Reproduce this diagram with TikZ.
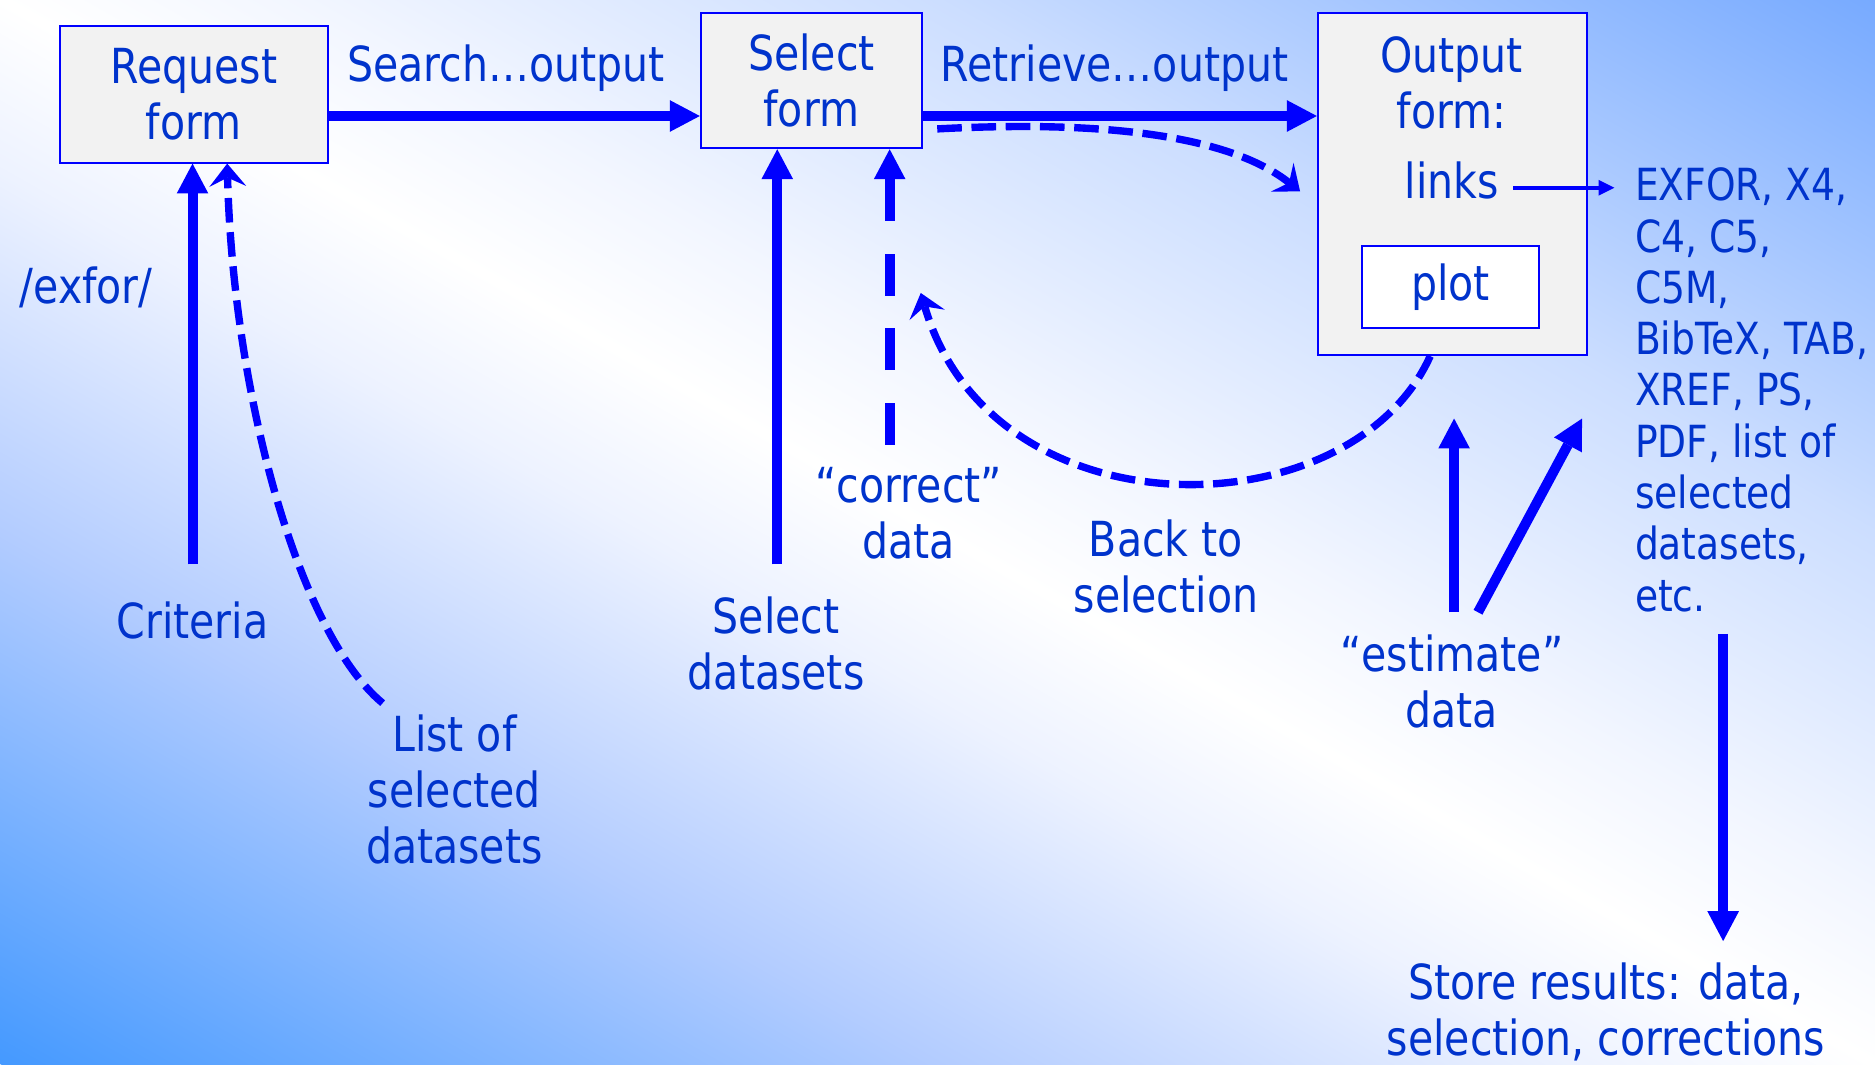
\documentclass[tikz,border=0pt]{standalone}
\usepackage{fontspec}
\setmainfont{DejaVu Sans}[FakeStretch=0.85]
\usetikzlibrary{arrows.meta,calc}

\definecolor{txtblue}{HTML}{0033CC}
\definecolor{arrblue}{HTML}{0000FF}
\definecolor{boxfill}{HTML}{F2F2F2}

% blue -> white -> blue background, stops between 25bp and 75bp span the path
\pgfdeclarehorizontalshading{bgshade}{100bp}{%
  rgb(0bp)=(0.267,0.600,1);
  rgb(25bp)=(0.267,0.600,1);
  rgb(37.5bp)=(0.70,0.80,1);
  rgb(46bp)=(0.93,0.95,1);
  rgb(50bp)=(1,1,1);
  rgb(54bp)=(0.95,0.965,1);
  rgb(62.5bp)=(0.80,0.87,1);
  rgb(75bp)=(0.467,0.667,1);
  rgb(100bp)=(0.467,0.667,1)}

\tikzset{
  lbl/.style={text=txtblue, font=\fontsize{27.5}{32}\selectfont, align=center, inner sep=0pt},
  lblsmall/.style={text=txtblue, font=\fontsize{25.2}{29.2}\selectfont, align=left, inner sep=0pt},
  formbox/.style={draw=arrblue, line width=1.1pt, fill=boxfill, inner sep=0pt,
    text=txtblue, font=\fontsize{27.5}{32}\selectfont, align=center},
  bigarrow/.style={draw=arrblue, line width=5.7pt,
    -{Triangle[width=18pt,length=17pt,line width=0pt]}},
  dasharrow/.style={draw=arrblue, line width=4.2pt, dash pattern=on 14pt off 5.5pt,
    -{Stealth[width=21pt,length=13pt,inset=5pt,line width=0pt]}},
  thinarrow/.style={draw=arrblue, line width=2pt,
    -{Triangle[width=9pt,length=9pt,line width=0pt]}},
}

\begin{document}
\begin{tikzpicture}[x=0.02392cm, y=-0.02392cm]
\useasboundingbox (0,0) rectangle (1568,890);

% background
\begin{scope}
  \clip (0,0) rectangle (1568,890);
  \begin{scope}[transform canvas={shift={(784,445)}, rotate=60.4}]
    \shade[shading=bgshade] (-774,-1100) rectangle (774,1100);
  \end{scope}
\end{scope}

% forms
\node[formbox, minimum width=5.358cm, minimum height=2.727cm] (req) at (162,79) {Request\\form};
\node[formbox, minimum width=4.425cm, minimum height=2.703cm] (sel) at (678.5,67.5) {Select\\form};
\node[formbox, minimum width=5.382cm, minimum height=6.841cm] (out) at (1214.5,154) {};
\node[lbl] (outtitle) at (1214,69) {Output\\form:};
\node[lbl] (links) at (1214,151) {links};
\node[formbox, fill=white, minimum width=3.540cm, minimum height=1.627cm] (plot) at (1213,240) {plot};

% labels
\node[lbl] (search) at (423,57) {Search…output};
\node[lbl] (retrieve) at (932,57) {Retrieve…output};
\node[lbl] (exfor) at (72,240) {/exfor/};
\node[lbl] (crit) at (161,519) {Criteria};
\node[lbl] (list) at (380,660) {List of\\selected\\datasets};
\node[lbl] (seldata) at (649,538) {Select\\datasets};
\node[lbl] (correct) at (760,429) {“correct”\\data};
\node[lbl] (back) at (975,474) {Back to\\selection};
\node[lbl] (estimate) at (1214,570) {“estimate”\\data};
\node[lblsmall, anchor=west] (formats) at (1367,326)
  {EXFOR, X4,\\C4, C5,\\C5M,\\BibTeX, TAB,\\XREF, PS,\\PDF, list of\\selected\\datasets,\\etc.};
\node[lbl] (store) at (1343,846) {Store results: data,\\selection, corrections};

% free ends of connectors
\coordinate (yA) at (0,97);
\coordinate (critTail) at (161,472);
\coordinate (selTail) at (650,472);
\coordinate (corTail) at (744,372);
\coordinate (listTail) at (320,588);
\coordinate (backHead) at (770,245);
\coordinate (estA) at (1216,512);
\coordinate (estAHead) at (1216,350);
\coordinate (estB) at (1236,512);
\coordinate (estBHead) at (1323,350);
\coordinate (storeTail) at (1441,530);
\coordinate (storeHead) at (1441,787);

% main flow
\draw[bigarrow] (req.east |- yA) -- (sel.west |- yA);
\draw[bigarrow] (sel.east |- yA) -- (out.west |- yA);

% inputs from below
\draw[bigarrow] (critTail) -- (critTail |- req.south);
\draw[bigarrow] (selTail) -- (selTail |- sel.south);
\draw[bigarrow, dash pattern=on 23.8pt off 18.7pt] (corTail) -- (corTail |- sel.south);
\draw[dasharrow] (listTail) .. controls (250,530) and (195,330) .. ($(req.south)+(28,0)$);

% retrieve again, back to selection
\draw[dasharrow] ($(sel.south east)+(12,-17)$) .. controls (930,100) and (1030,115) .. ($(out.west)+(-14,6)$);
\draw[dasharrow] ($(out.south)+(-18.5,0)$) .. controls (1130,445) and (830,450) .. (backHead);

% output links and estimate
\draw[thinarrow] ($(links.east)+(12,6)$) -- ($(formats.west |- links)+(-17,6)$);
\draw[bigarrow] (estA) -- (estAHead);
\draw[bigarrow] (estB) -- (estBHead);
\draw[bigarrow] (storeTail) -- (storeHead);
\end{tikzpicture}
\end{document}
